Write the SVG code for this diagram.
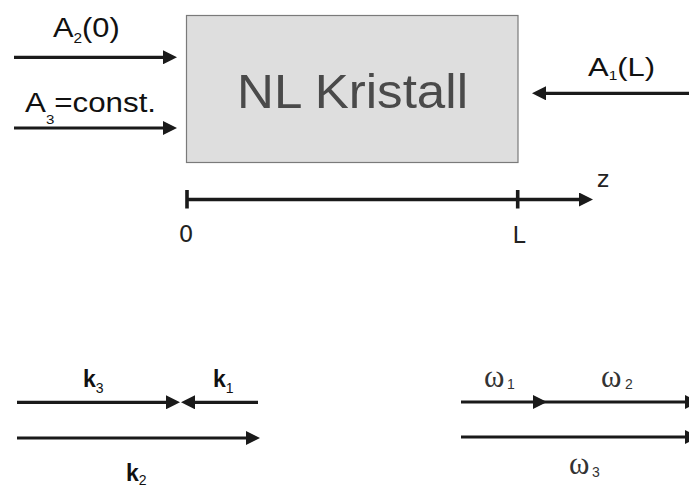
<svg xmlns="http://www.w3.org/2000/svg" width="689" height="486" viewBox="0 0 689 486">
  <style>
    .wire { fill: none; stroke: #1a1a1a; stroke-width: 3.2; }
    .axis { fill: none; stroke: #1a1a1a; stroke-width: 3.6; }
    .lbl { font-family: "Liberation Sans", Arial, sans-serif; fill: #111; }
    .tick { font-family: "DejaVu Sans", "Liberation Sans", sans-serif; font-size: 23px; fill: #222; }
    .kv { font-family: "Liberation Sans", Arial, sans-serif; font-weight: bold; font-size: 23px; fill: #111; }
    .ksub { font-weight: normal; font-size: 14px; }
    .om { font-family: "Liberation Serif", "Times New Roman", serif; font-size: 31px; fill: #333; }
    .omsub { font-family: "Liberation Sans", Arial, sans-serif; font-size: 14px; fill: #333; }
  </style>
  <defs>
    <marker id="head" viewBox="0 0 14 14" refX="4" refY="7" markerWidth="14" markerHeight="14" markerUnits="userSpaceOnUse" orient="auto">
      <path d="M0,0 L14,7 L0,14 z" fill="#1a1a1a"/>
    </marker>
  </defs>

  <rect width="689" height="486" fill="#ffffff"/>

  <!-- nonlinear crystal -->
  <g id="crystal">
    <rect x="186.5" y="15.5" width="331.5" height="147" fill="#dedede" stroke="#7a7a7a" stroke-width="1.2"/>
    <text x="237" y="108.3" font-family="Liberation Sans, Arial, sans-serif" font-size="48" fill="#4a4a4a" textLength="231" lengthAdjust="spacingAndGlyphs">NL Kristall</text>
  </g>

  <!-- input / output labels (slightly widened lettering) -->
  <g id="label-a2">
    <text class="lbl" transform="translate(53,36.5) scale(1.1,1)" font-size="28">A<tspan font-size="14" dy="6.5">2</tspan><tspan dy="-6.5">(0)</tspan></text>
  </g>
  <g id="label-a3">
    <text class="lbl" transform="translate(25,111.5) scale(1.16,1)" font-size="27">A<tspan font-size="13" dy="12">3</tspan><tspan dy="-12">=const.</tspan></text>
  </g>
  <g id="label-a1">
    <text class="lbl" transform="translate(588,76) scale(1.19,1)" font-size="26">A<tspan font-size="13" dy="4">1</tspan><tspan dy="-4">(L)</tspan></text>
  </g>

  <!-- beams -->
  <g id="connectors">
    <path class="wire" d="M14,57.3 L167,57.3" marker-end="url(#head)"/>
    <path class="wire" d="M14,128 L167,128" marker-end="url(#head)"/>
    <path class="wire" d="M689,93.3 L542,93.3" marker-end="url(#head)"/>
  </g>

  <!-- z axis -->
  <g id="axis">
    <path class="axis" d="M187,199.5 L583,199.5" marker-end="url(#head)"/>
    <path class="axis" d="M187,190 L187,208.5 M517.7,190 L517.7,208.5"/>
    <text class="tick" x="186" y="242" text-anchor="middle">0</text>
    <text class="tick" x="519" y="242.5" text-anchor="middle">L</text>
    <text class="tick" x="597" y="187">z</text>
  </g>

  <!-- wave vectors -->
  <g id="wavevectors">
    <path class="wire" d="M17,402.3 L170,402.3" marker-end="url(#head)"/>
    <path class="wire" d="M258,402.3 L191,402.3" marker-end="url(#head)"/>
    <path class="wire" d="M17,438 L250,438" marker-end="url(#head)"/>
    <text class="kv" x="83" y="387">k<tspan class="ksub" dy="6">3</tspan></text>
    <text class="kv" x="213" y="387">k<tspan class="ksub" dy="6">1</tspan></text>
    <text class="kv" x="126" y="481">k<tspan class="ksub" dy="3.5">2</tspan></text>
  </g>

  <!-- frequencies -->
  <g id="frequencies">
    <path class="wire" d="M461,402 L537,402 L689,402" marker-mid="url(#head)" marker-end="url(#head)"/>
    <path class="wire" d="M461,437 L689,437" marker-end="url(#head)"/>
    <text class="om" x="484" y="387">ω</text><text class="omsub" x="507" y="389">1</text>
    <text class="om" x="601" y="387">ω</text><text class="omsub" x="625" y="389">2</text>
    <text class="om" x="569" y="474">ω</text><text class="omsub" x="592" y="477">3</text>
  </g>
</svg>
